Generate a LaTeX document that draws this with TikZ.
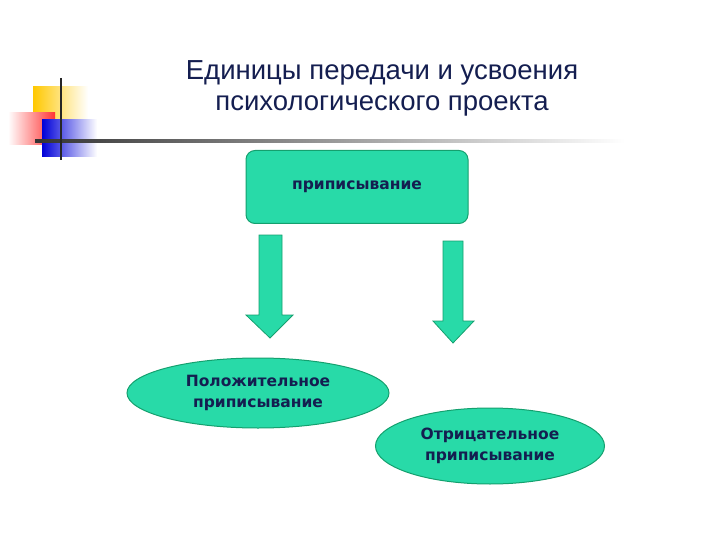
\documentclass[tikz,border=0pt]{standalone}
\usepackage{fontspec}
\setmainfont{Liberation Sans}
\newfontfamily\vfont{DejaVu Sans}
\usetikzlibrary{shapes.geometric}
\definecolor{turq}{RGB}{40,218,168}
\definecolor{turqd}{RGB}{20,160,110}
\definecolor{navy}{RGB}{20,30,80}
\definecolor{gold}{RGB}{255,200,0}
\tikzset{
  boxfill/.style={fill=turq,draw=turqd,line width=1pt},
  lbl/.style={font=\vfont\bfseries\fontsize{15.5}{21}\selectfont,text=navy,align=center},
  arr/.style={fill=turq,draw=turqd,line width=0.8pt}
}
\begin{document}
\begin{tikzpicture}[x=1pt,y=-1pt]
\useasboundingbox (0,0) rectangle (720,540);
% decoration
\shade[left color=gold,right color=white] (33,87) rectangle (88,127);
\shade[left color=white,right color=red!80] (8,113) rectangle (55,145);
\shade[left color=blue!85!black,right color=white] (42,120) rectangle (97,157);
\shade[left color=black!80,right color=white] (35,140) rectangle (625,142.5);
\draw[line width=2.5pt,black!85] (61,78) -- (61,160);
% title
\node[font=\fontsize{27.5}{31}\selectfont,text=navy,align=center] (title) at (382,88) {Единицы передачи и усвоения\\психологического проекта};
% top box
\node[boxfill,rounded corners=9pt,minimum width=222pt,minimum height=73pt,lbl] (top) at (357,187) {приписывание};
% arrows
\draw[arr] (259,235) -- (282,235) -- (282,315) -- (293,315) -- (270,338) -- (246,315) -- (259,315) -- cycle;
\draw[arr] (443,241) -- (463,241) -- (463,321) -- (474,321) -- (453,343) -- (433,321) -- (443,321) -- cycle;
% ellipses
\node[boxfill,ellipse,minimum width=262pt,minimum height=70pt,inner sep=0pt,lbl] (pos) at (258,393) {Положительное\\приписывание};
\node[boxfill,ellipse,minimum width=229pt,minimum height=76pt,inner sep=0pt,lbl] (neg) at (490,446) {Отрицательное\\приписывание};
\end{tikzpicture}
\end{document}
